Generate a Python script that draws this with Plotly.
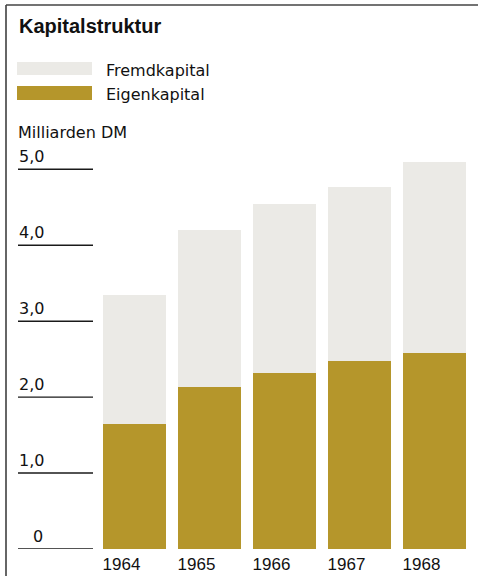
import plotly.graph_objects as go

years = ["1964", "1965", "1966", "1967", "1968"]
eigenkapital = [1.64, 2.13, 2.32, 2.48, 2.58]
fremdkapital = [1.70, 2.07, 2.22, 2.29, 2.51]
tick_vals = [0, 1, 2, 3, 4, 5]
tick_text = ["0", "1,0", "2,0", "3,0", "4,0", "5,0"]

EIGEN = "#B5962B"
FREMD = "#EBEAE6"
W, H = 478, 580

def px(x):
    return x / W

def py(y):
    return 1 - y / H

fig = go.Figure()
fig.add_trace(go.Bar(x=years, y=eigenkapital, name="Eigenkapital",
                     marker=dict(color=EIGEN, line=dict(width=0)), showlegend=False))
fig.add_trace(go.Bar(x=years, y=fremdkapital, name="Fremdkapital",
                     marker=dict(color=FREMD, line=dict(width=0)), showlegend=False))

shapes = []
annotations = []

# y tick lines and labels (short rules on the left)
for v, t in zip(tick_vals, tick_text):
    shapes.append(dict(type="line", xref="paper", yref="y", x0=px(18), x1=px(93), y0=v, y1=v,
                       line=dict(color="#1a1a1a", width=1.4)))
    annotations.append(dict(xref="paper", yref="y", x=px(31 if t == "0" else 17), y=v,
                            text=t, showarrow=False, xanchor="left", yanchor="middle",
                            yshift=13, font=dict(family="DejaVu Sans", size=16, color="#111")))

# frame
shapes.append(dict(type="line", xref="paper", yref="paper", x0=px(6), x1=px(6), y0=py(5), y1=py(576),
                   line=dict(color="#333", width=1.5)))
shapes.append(dict(type="line", xref="paper", yref="paper", x0=px(6), x1=px(478), y0=py(5), y1=py(5),
                   line=dict(color="#444", width=1.5)))

# legend swatches
shapes.append(dict(type="rect", xref="paper", yref="paper", x0=px(17), x1=px(92), y0=py(62), y1=py(75),
                   fillcolor=FREMD, line=dict(width=0)))
shapes.append(dict(type="rect", xref="paper", yref="paper", x0=px(17), x1=px(92), y0=py(86), y1=py(100),
                   fillcolor=EIGEN, line=dict(width=0)))

annotations += [
    dict(xref="paper", yref="paper", x=px(17), y=py(26), text="<b>Kapitalstruktur</b>", showarrow=False,
         xanchor="left", yanchor="middle", font=dict(family="Liberation Sans", size=20, color="#111")),
    dict(xref="paper", yref="paper", x=px(104), y=py(70), text="Fremdkapital", showarrow=False,
         xanchor="left", yanchor="middle", font=dict(family="DejaVu Sans", size=16, color="#111")),
    dict(xref="paper", yref="paper", x=px(104), y=py(95), text="Eigenkapital", showarrow=False,
         xanchor="left", yanchor="middle", font=dict(family="DejaVu Sans", size=16, color="#111")),
    dict(xref="paper", yref="paper", x=px(16), y=py(132), text="Milliarden DM", showarrow=False,
         xanchor="left", yanchor="middle", font=dict(family="DejaVu Sans", size=16, color="#111")),
]

y_bottom, y_top = 549.0, 169.3
unit = (y_bottom - y_top) / 5.0
ymax = 5.4

fig.update_layout(
    width=W, height=H,
    margin=dict(l=0, r=0, t=0, b=0),
    paper_bgcolor="white", plot_bgcolor="white",
    barmode="stack", bargap=0.16,
    shapes=shapes, annotations=annotations,
    xaxis=dict(domain=[px(97), px(472)], range=[-0.5, 4.5], type="category",
               showgrid=False, showline=False, zeroline=False, ticks="",
               tickfont=dict(family="Liberation Sans", size=17, color="#111"),
               ticklabelshift=-13, ticklabelstandoff=3),
    yaxis=dict(domain=[py(y_bottom), py(y_bottom - ymax * unit)], range=[0, ymax],
               showgrid=False, showline=False, zeroline=False, showticklabels=False, ticks=""),
)

fig.write_html("out.html")
